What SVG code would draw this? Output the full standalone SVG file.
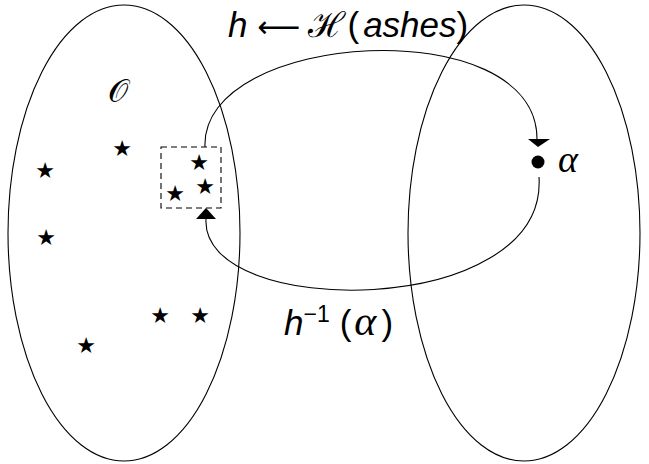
<svg xmlns="http://www.w3.org/2000/svg" width="649" height="464" viewBox="0 0 649 464">
<style>
.line{fill:none;stroke:#000;stroke-width:1.1}
.star{font-family:"DejaVu Sans",sans-serif;font-size:22px;text-anchor:middle;fill:#000}
.lbl{font-family:"Liberation Sans",Arial,sans-serif;font-size:35px;fill:#000}
.it{font-style:italic}
.math{font-family:"Liberation Serif","DejaVu Serif",serif;font-size:38px;font-style:italic}
</style>
<rect width="649" height="464" fill="#fff"/>
<g id="setO">
<ellipse class="line" cx="124" cy="233" rx="116" ry="228"/>
<text x="118" y="102" font-family="'DejaVu Serif',serif" font-size="32" text-anchor="middle">𝒪</text>
</g>
<g id="setRight">
<ellipse class="line" cx="524" cy="233" rx="116" ry="228"/>
</g>
<g id="stars">
<text class="star" x="45" y="178">★</text>
<text class="star" x="122" y="156">★</text>
<text class="star" x="46" y="245">★</text>
<text class="star" x="160" y="323">★</text>
<text class="star" x="200" y="323">★</text>
<text class="star" x="86" y="353">★</text>
</g>
<g id="box">
<rect x="161" y="147" width="60" height="61" fill="none" stroke="#000" stroke-width="1.1" stroke-dasharray="6,4"/>
<text class="star" x="199" y="170">★</text>
<text class="star" x="175" y="201">★</text>
<text class="star" x="205" y="194">★</text>
</g>
<g id="alpha">
<circle cx="538" cy="162" r="6.5" fill="#000"/>
<text class="math" x="558" y="172">α</text>
</g>
<g id="connectors">
<path class="line" d="M205,147 C200,30 537,10 537,139"/>
<polygon points="528,139 550,139 538,147" fill="#000"/>
<path class="line" d="M539,177 C548,320 200,320 206,219"/>
<polygon points="196,219 216,219 206,208" fill="#000"/>
</g>
<g id="labels">
<text class="lbl" x="228" y="37"><tspan class="it">h</tspan><tspan font-family="'DejaVu Sans',sans-serif" font-size="30" dx="10">⟵</tspan><tspan dx="8" font-family="'DejaVu Serif',serif" font-size="35">ℋ</tspan><tspan dx="2">(</tspan><tspan class="it" dx="4">ashes</tspan>)</text>
<text class="lbl" x="284" y="335"><tspan class="it">h</tspan><tspan font-size="23" dy="-13">−1</tspan><tspan dy="13" dx="10">(</tspan><tspan font-family="'Liberation Serif',serif" font-style="italic" font-size="42" dx="3">α</tspan><tspan dx="5">)</tspan></text>
</g>
</svg>
